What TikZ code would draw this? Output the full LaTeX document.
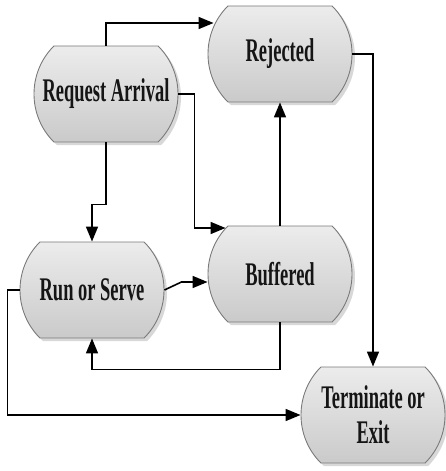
\documentclass[tikz,border=0pt]{standalone}
\usepackage{fontspec}
\setmainfont{Liberation Serif}
\usetikzlibrary{arrows.meta,shadows,calc,shapes.misc}

\definecolor{boxtop}{HTML}{ECECEC}
\definecolor{boxbot}{HTML}{CACACA}
\definecolor{boxedge}{HTML}{7A7A7A}
\definecolor{inktext}{HTML}{151515}

% condensed bold label text
\newcommand{\cond}[1]{\scalebox{0.56}[1]{#1}}

\tikzset{
  state/.style={
    rounded rectangle, rounded rectangle arc length=90,
    minimum width=144pt, minimum height=96pt,
    draw=boxedge, line width=0.9pt,
    top color=boxtop, bottom color=boxbot,
    drop shadow={shadow xshift=3pt, shadow yshift=-3pt, fill=black!30, opacity=0.5},
    text=inktext, align=center, inner sep=0pt,
    font=\fontsize{33}{35}\selectfont\bfseries
  },
  flow/.style={
    line width=1.6pt, draw=black,
    -{Triangle[length=15pt,width=12pt]}
  }
}

\begin{document}
\begin{tikzpicture}[x=1pt,y=-1pt]
  \useasboundingbox (0,0) rectangle (445,471);

  \node[state] (arr) at (106,94)  {\cond{Request Arrival}};
  \node[state] (rej) at (280,54)  {\cond{Rejected}};
  \node[state] (run) at (92,290)  {\cond{Run or Serve}};
  \node[state] (buf) at (280,274) {\cond{Buffered}};
  \node[state] (ext) at (373,415) {\cond{Terminate or}\\\cond{Exit}};

  % arrival branches
  \draw[flow] (arr.north) |- ([xshift=6pt,yshift=31pt]rej.west);
  \draw[flow] (arr.east) -- ++(16,0) |- ([xshift=18pt,yshift=46pt]buf.west);
  \draw[flow] (arr.south) -- ++(0,62) -| (run.north);

  % buffer overflow and rejection path
  \draw[flow] (buf.north) -- (rej.south);
  \draw[flow] (rej.east) -| (ext.north);

  % serving loop
  \draw[flow] (run.east) -- ($(run.east)+(17,-8)$) -- ([yshift=-8pt]buf.west);
  \draw[flow] (buf.south) -- ++(0,47) -| (run.south);

  % normal exit
  \draw[flow] (run.west) -- ++(-12,0) |- (ext.west);
\end{tikzpicture}
\end{document}
